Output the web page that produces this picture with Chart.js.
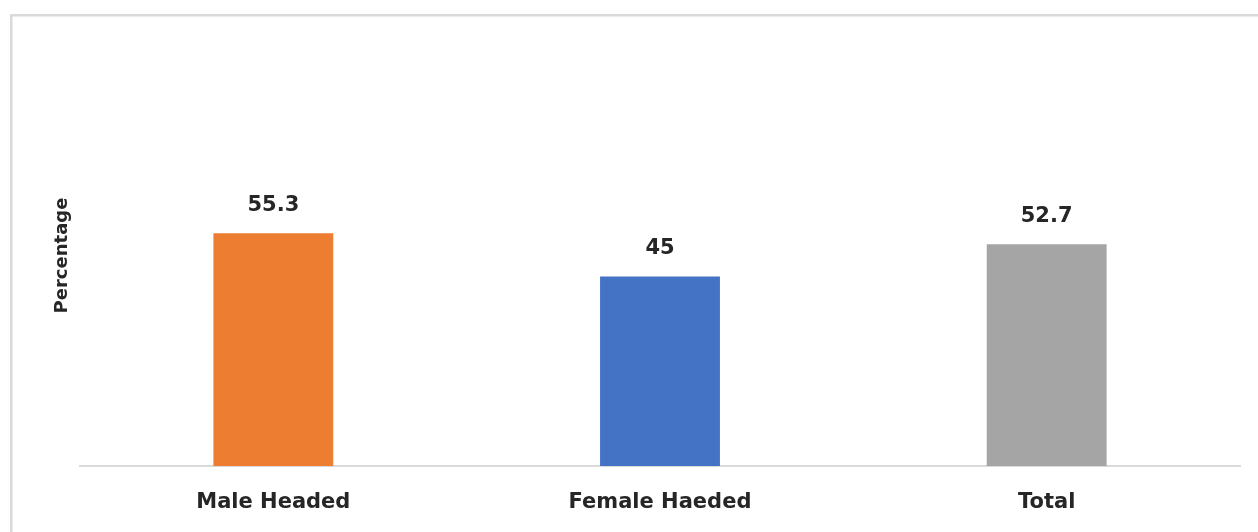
<!DOCTYPE html>
<html>
<head>
<meta charset="utf-8">
<script src="https://cdn.jsdelivr.net/npm/chart.js@4/dist/chart.umd.min.js"></script>
<style>
  html, body { margin: 0; padding: 0; background: #ffffff; }
  #wrap { width: 1258px; height: 532px; position: relative; }
</style>
</head>
<body>
<div id="wrap"><canvas id="chart"></canvas></div>
<script>
// Household groups and their shares (percent)
const categories = ['Male Headed', 'Female Haeded', 'Total'];
const values = [55.3, 45, 52.7];
const barColors = ['#ED7D31', '#4472C4', '#A5A5A5'];
const axisTitle = 'Percentage';

const FONT = '"DejaVu Sans", "Liberation Sans", sans-serif';
const TEXT = '#262626';

// Light frame around the whole chart
const framePlugin = {
  id: 'frame',
  beforeDraw(chart) {
    const ctx = chart.ctx;
    ctx.save();
    ctx.fillStyle = '#ffffff';
    ctx.fillRect(0, 0, chart.width, chart.height);
    ctx.strokeStyle = '#dadada';
    ctx.lineWidth = 2.5;
    ctx.strokeRect(11.3, 15.3, chart.width + 20, chart.height + 20);
    ctx.restore();
  }
};

// Value labels above each bar
const valueLabels = {
  id: 'valueLabels',
  afterDatasetsDraw(chart) {
    const ctx = chart.ctx;
    const meta = chart.getDatasetMeta(0);
    ctx.save();
    ctx.font = 'bold 21px ' + FONT;
    ctx.fillStyle = TEXT;
    ctx.textAlign = 'center';
    ctx.textBaseline = 'middle';
    meta.data.forEach((bar, i) => {
      ctx.fillText(String(chart.data.datasets[0].data[i]), bar.x, bar.y - 28);
    });
    ctx.restore();
  }
};

new Chart(document.getElementById('chart'), {
  type: 'bar',
  data: {
    labels: categories,
    datasets: [{
      data: values,
      backgroundColor: barColors,
      borderWidth: 0,
      barPercentage: 0.31,
      categoryPercentage: 1.0
    }]
  },
  options: {
    responsive: true,
    maintainAspectRatio: false,
    animation: false,
    layout: { padding: { top: 45, right: 18, bottom: 0, left: 0 } },
    plugins: {
      legend: { display: false },
      tooltip: { enabled: false }
    },
    scales: {
      x: {
        grid: { display: false, drawTicks: false },
        border: { display: true, color: '#d9d9d9', width: 2 },
        ticks: {
          color: TEXT,
          padding: 24,
          font: { family: FONT, size: 21, weight: 'bold' }
        },
        afterFit(axis) { axis.height = 66; }
      },
      y: {
        min: 0,
        max: 100,
        grid: { display: false, drawTicks: false },
        border: { display: false },
        ticks: { display: false },
        title: {
          display: true,
          text: axisTitle,
          color: TEXT,
          padding: { top: 52, bottom: 0 },
          font: { family: FONT, size: 18, weight: 'bold' }
        },
        afterFit(axis) { axis.width = 80; }
      }
    }
  },
  plugins: [framePlugin, valueLabels]
});
</script>
</body>
</html>
